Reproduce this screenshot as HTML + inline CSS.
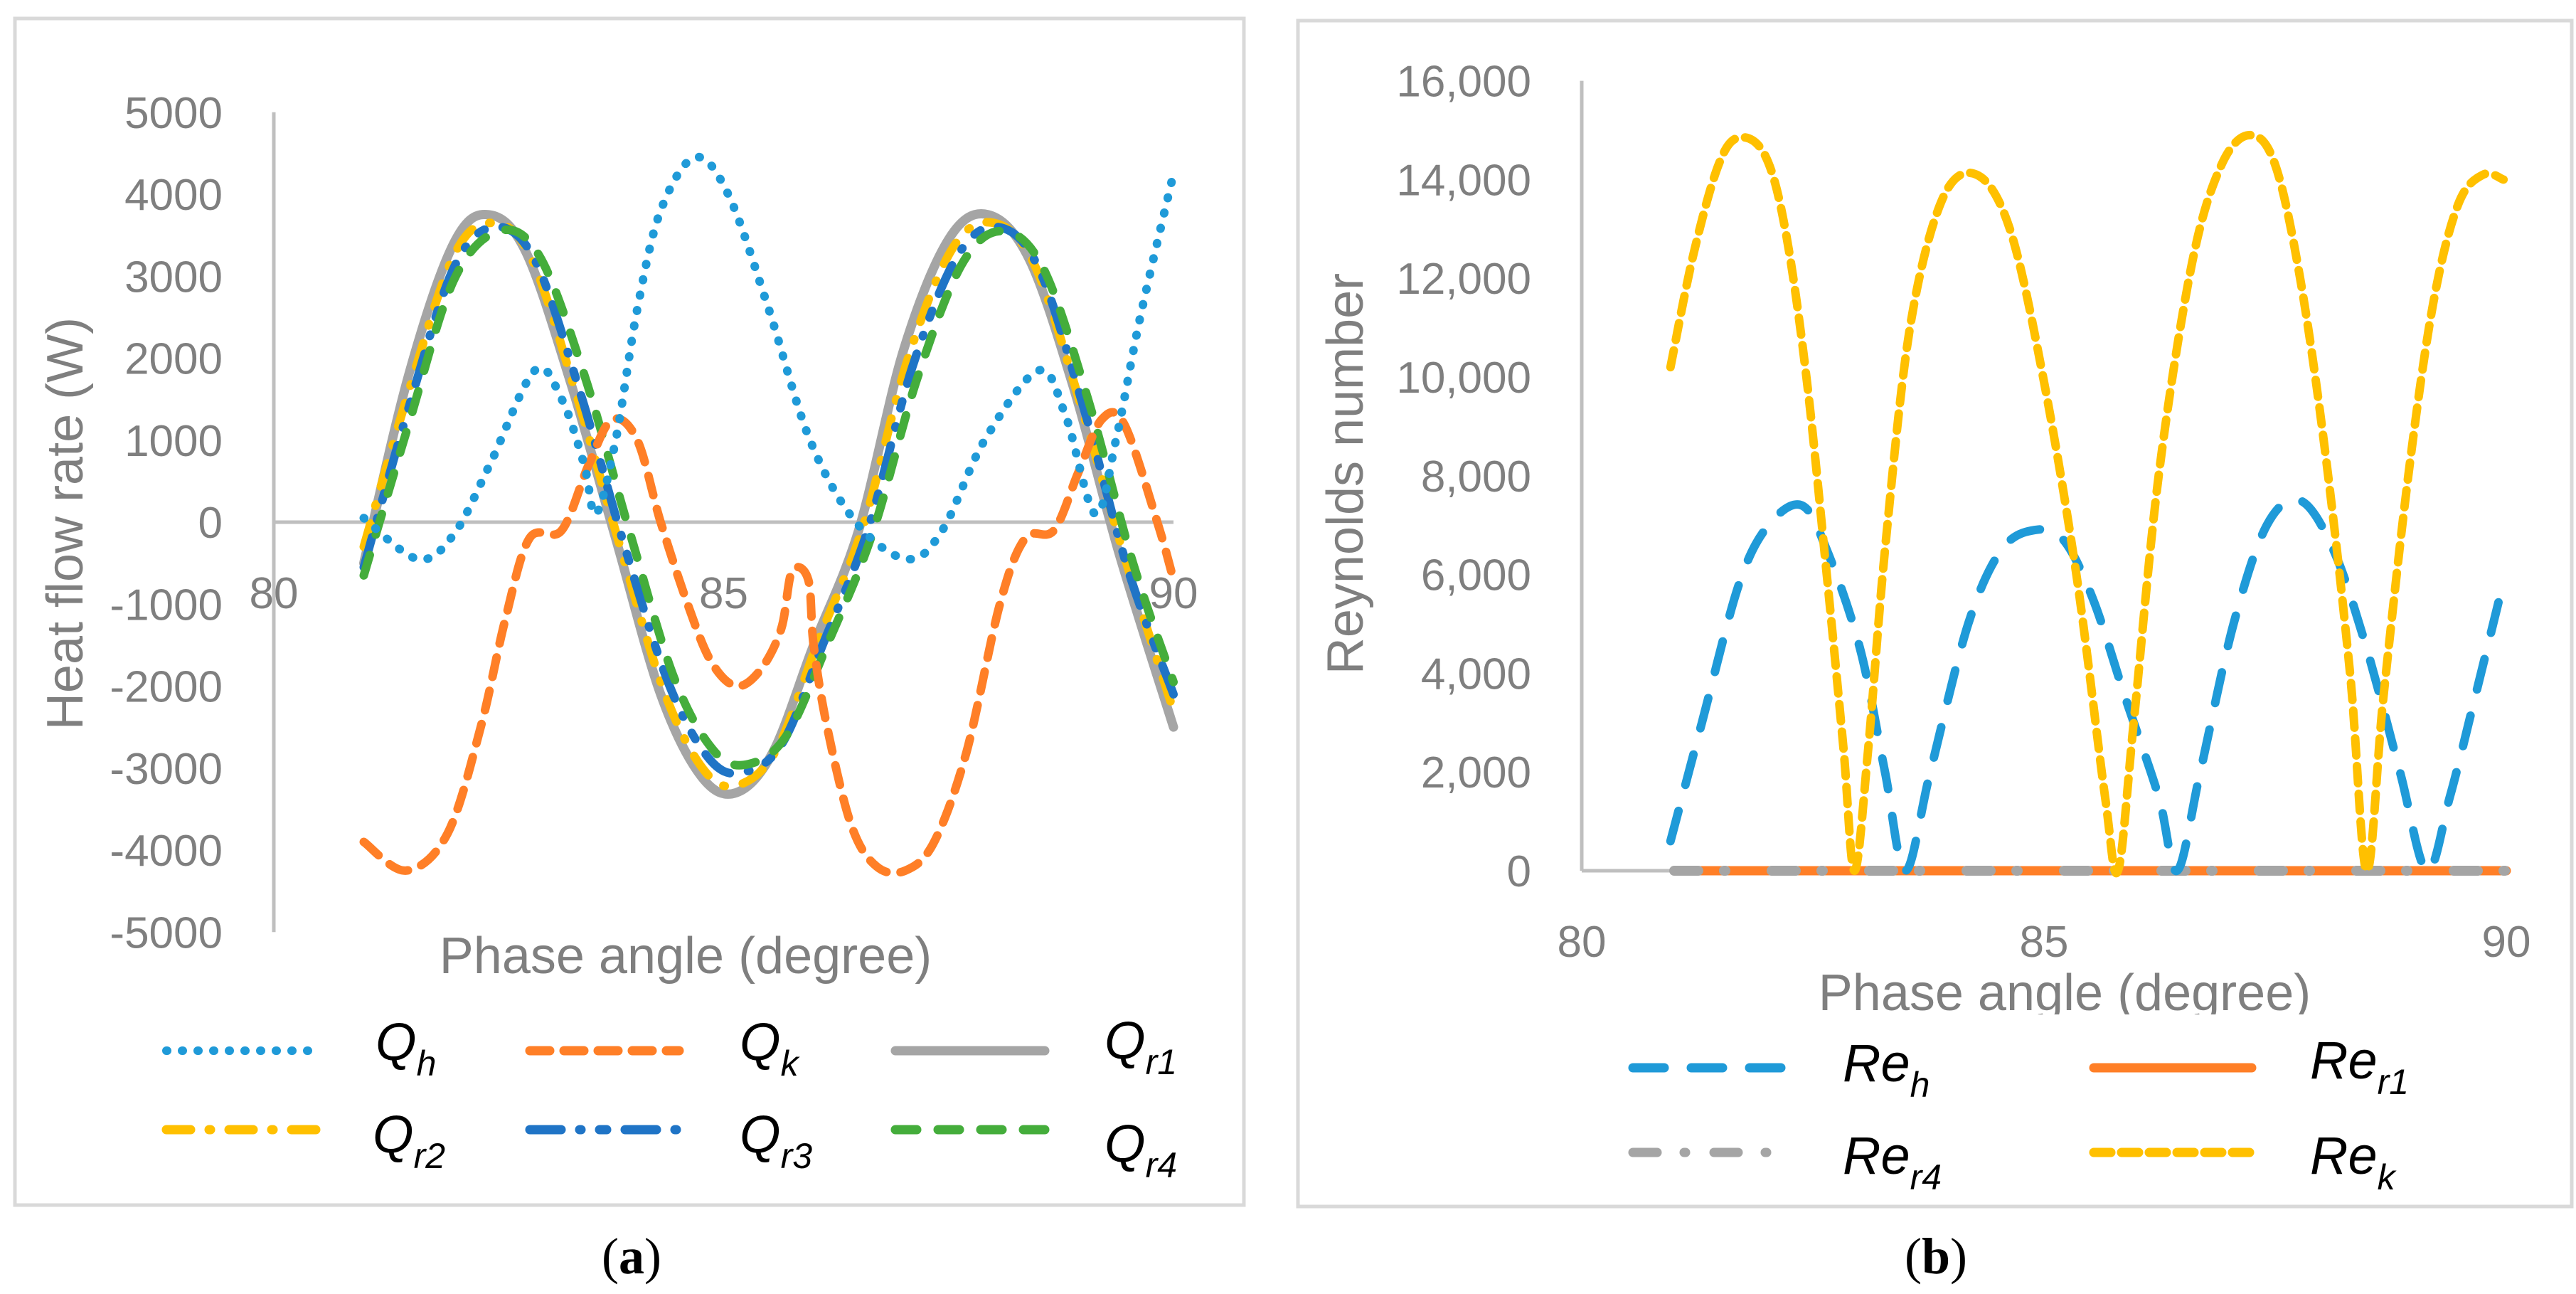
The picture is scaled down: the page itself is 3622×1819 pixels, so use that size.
<!DOCTYPE html>
<html><head><meta charset="utf-8"><style>
html,body{margin:0;padding:0;background:#fff;}
svg{display:block;}
text{font-family:"Liberation Sans",sans-serif;}
</style></head><body>
<svg id="fig" width="3622" height="1819" viewBox="0 0 3622 1819" xmlns="http://www.w3.org/2000/svg">
<rect x="0" y="0" width="3622" height="1819" fill="#fff"/>
<g id="panelA"></g>
<g id="panelB"></g>
</svg>
<script>
// ---------- Panel (a) data ----------
const aYTicks = [5000,4000,3000,2000,1000,0,-1000,-2000,-3000,-4000,-5000];
const aXTicks = [80,85,90];
const qr1X = [81,81.5,82,82.39,82.8,83.3,83.8,84.3,84.75,85.14,85.55,86,86.5,87,87.5,87.94,88.4,88.9,89.4,90];
const qr1Y = [-500,1800,3400,3750,3300,1700,-200,-2100,-3100,-3300,-2800,-1500,-100,2100,3450,3750,3200,1600,-400,-2500];
const qr2X = [81,81.5,82,82.42,82.85,83.35,83.85,84.35,84.8,85.18,85.6,86.05,86.55,87.05,87.55,88,88.45,88.95,89.45,90];
const qr2Y = [-300,1600,3250,3650,3250,1600,-300,-2100,-3050,-3200,-2750,-1450,-50,2000,3350,3650,3150,1500,-400,-2300];
const qr3X = [81,81.5,82,82.45,82.9,83.4,83.9,84.4,84.85,85.22,85.65,86.1,86.6,87.1,87.6,88.05,88.5,89,89.5,90];
const qr3Y = [-550,1400,3100,3600,3200,1600,-300,-2000,-2900,-3050,-2700,-1500,-100,1900,3250,3600,3100,1400,-600,-2100];
const qr4X = [81,81.5,82,82.5,82.95,83.45,83.95,84.45,84.9,85.28,85.7,86.15,86.65,87.15,87.65,88.1,88.55,89.05,89.55,90];
const qr4Y = [-650,1200,2950,3550,3250,1800,-100,-1900,-2800,-2950,-2600,-1500,-150,1750,3150,3550,3100,1500,-500,-1950];
const qhX = [81,81.6,82,82.4,82.9,83.2,83.45,83.58,83.8,84.04,84.3,84.68,85.05,85.5,85.96,86.47,87.04,87.43,87.9,88.5,88.8,89.13,89.36,89.63,90];
const qhY = [50,-450,-150,700,1850,1500,700,100,1000,2600,3800,4450,4000,2600,1000,0,-450,-100,1000,1850,1300,100,1000,2500,4250];
const qkX = [81,81.47,81.93,82.3,82.57,82.84,83.2,83.5,83.76,84.04,84.3,84.6,84.86,85.14,85.41,85.64,85.76,85.94,86.0,86.15,86.42,86.7,87.02,87.34,87.7,88.07,88.35,88.67,88.94,89.2,89.45,89.82,90];
const qkY = [-3900,-4250,-3800,-2500,-1200,-200,-100,700,1250,1000,0,-1000,-1700,-2000,-1800,-1300,-600,-700,-1500,-2500,-3700,-4200,-4250,-3900,-2800,-1000,-200,-100,600,1250,1200,0,-700];

// ---------- Panel (b) data ----------
const bYTicks = [0,2000,4000,6000,8000,10000,12000,14000,16000];
const bYTickLabels = ["0","2,000","4,000","6,000","8,000","10,000","12,000","14,000","16,000"];
const bXTicks = [80,85,90];
const rekX = [80.96,81.21,81.48,81.7,81.98,82.2,82.43,82.65,82.83,82.95,83.1,83.28,83.55,83.9,84.27,84.63,84.99,85.35,85.66,85.8,85.97,86.24,86.6,86.92,87.23,87.5,87.77,88.04,88.31,88.49,88.67,88.94,89.21,89.48,89.75,89.97];
const rekY = [10200,12500,14300,14850,14500,13000,10000,6000,2500,0,2500,6500,11000,13600,14100,13000,10000,6000,1500,0,3000,8000,12300,14300,14900,14300,12000,8500,4000,0,3500,8000,11500,13500,14100,14000];
const rehX = [80.96,81.3,81.7,82.02,82.38,82.65,83.01,83.28,83.5,83.77,84.18,84.54,84.9,85.21,85.53,85.88,86.24,86.44,86.69,87.05,87.41,87.77,88.13,88.49,88.85,89.14,89.39,89.66,89.95];
const rehY = [600,3000,5800,7000,7400,6500,4500,2000,0,2000,5000,6500,6900,6700,5500,3500,1500,0,2000,5000,7000,7500,6500,4500,2000,0,1500,3500,5700];
const rer1X = [81,82,83,84,85,86,87,88,89,90];
const rer1Y = [0,0,0,0,0,0,0,0,0,0];
const rer4X = [81,82,83,84,85,86,87,88,89,90];
const rer4Y = [0,0,0,0,0,0,0,0,0,0];

const NS = "http://www.w3.org/2000/svg";
function mk(parent, tag, attrs, txt){
  const e = document.createElementNS(NS, tag);
  for (const k in attrs) e.setAttribute(k, attrs[k]);
  if (txt !== undefined) e.textContent = txt;
  parent.appendChild(e);
  return e;
}
function smoothPath(pts){
  let d = "M" + pts[0][0].toFixed(1) + "," + pts[0][1].toFixed(1);
  for (let i = 0; i < pts.length - 1; i++){
    const p0 = pts[i-1] || pts[i], p1 = pts[i], p2 = pts[i+1], p3 = pts[i+2] || p2;
    const c1x = p1[0] + (p2[0]-p0[0])/6, c1y = p1[1] + (p2[1]-p0[1])/6;
    const c2x = p2[0] - (p3[0]-p1[0])/6, c2y = p2[1] - (p3[1]-p1[1])/6;
    d += " C" + c1x.toFixed(1)+","+c1y.toFixed(1)+" "+c2x.toFixed(1)+","+c2y.toFixed(1)+" "+p2[0].toFixed(1)+","+p2[1].toFixed(1);
  }
  return d;
}

// ===== Panel A =====
const A = document.getElementById("panelA");
const ax = v => 385 + (v - 80) * 126.5;
const ay = v => 734 - v * 0.11525;
const frameA = mk(A, "rect", {x:21, y:26, width:1728, height:1668, fill:"none", stroke:"#d9d9d9", "stroke-width":5});


const yAxA = mk(A, "line", {x1:ax(80), y1:ay(5000), x2:ax(80), y2:ay(-5000), stroke:"#bfbfbf", "stroke-width":5});


const xAxA = mk(A, "line", {x1:ax(80), y1:ay(0), x2:ax(90), y2:ay(0), stroke:"#bfbfbf", "stroke-width":5});


for (const t of aYTicks){
  const e = mk(A, "text", {x:313, y:ay(t)+22, "text-anchor":"end", "font-size":62, fill:"#7f7f7f"}, String(t));
  
  
}
for (const t of aXTicks){
  const e = mk(A, "text", {x:ax(t), y:855, "text-anchor":"middle", "font-size":62, fill:"#7f7f7f"}, String(t));
  
  
}
const yTitA = mk(A, "text", {x:0, y:0, transform:"translate(116,736) rotate(-90)", "text-anchor":"middle", "font-size":72, fill:"#7f7f7f"}, "Heat flow  rate (W)");


const xTitA = mk(A, "text", {x:964, y:1368, "text-anchor":"middle", "font-size":72, fill:"#7f7f7f"}, "Phase angle (degree)");



const aSeries = [
  {name:"series-qr1", xs:qr1X, ys:qr1Y, color:"#a5a5a5", dash:"none", w:13},
  {name:"series-qr2", xs:qr2X, ys:qr2Y, color:"#ffc000", dash:"34 26 2 26", w:12},
  {name:"series-qr3", xs:qr3X, ys:qr3Y, color:"#1f74c6", dash:"44 26 2 26 10 26", w:12},
  {name:"series-qr4", xs:qr4X, ys:qr4Y, color:"#44ad3b", dash:"30 30", w:12},
  {name:"series-qk", xs:qkX, ys:qkY, color:"#ff7f27", dash:"28 20", w:12},
  {name:"series-qh", xs:qhX, ys:qhY, color:"#1f9ad8", dash:"1 21", w:12}
];
for (const s of aSeries){
  const pts = s.xs.map((x,i)=>[ax(x), ay(s.ys[i])]);
  const p = mk(A, "path", {d:smoothPath(pts), fill:"none", stroke:s.color, "stroke-width":s.w, "stroke-dasharray":s.dash, "stroke-linecap":"round", "stroke-linejoin":"round"});
  
  
}
// legend A
const legA = [
  {x:234, y:1477, color:"#1f9ad8", dash:"1 21", w:12, lab:"Q", sub:"h", lx:528, ly:1490},
  {x:745, y:1477, color:"#ff7f27", dash:"28 20", w:13, lab:"Q", sub:"k", lx:1040, ly:1490},
  {x:1259, y:1477, color:"#a5a5a5", dash:"none", w:13, lab:"Q", sub:"r1", lx:1553, ly:1488},
  {x:234, y:1588, color:"#ffc000", dash:"34 26 2 26", w:13, lab:"Q", sub:"r2", lx:524, ly:1620},
  {x:745, y:1588, color:"#1f74c6", dash:"44 26 2 26 10 26", w:13, lab:"Q", sub:"r3", lx:1040, ly:1620},
  {x:1259, y:1588, color:"#44ad3b", dash:"30 30", w:13, lab:"Q", sub:"r4", lx:1553, ly:1633}
];
for (const l of legA){
  const g = mk(A, "g", {});
  
  
  mk(g, "line", {x1:l.x, y1:l.y, x2:l.x+210, y2:l.y, stroke:l.color, "stroke-width":l.w, "stroke-dasharray":l.dash, "stroke-linecap":"round"});
  const t = mk(g, "text", {x:l.lx, y:l.ly, "font-size":74, "font-style":"italic", fill:"#000"});
  mk(t, "tspan", {}, l.lab);
  mk(t, "tspan", {dy:22, "font-size":50}, l.sub);
}
const capA = mk(A, "text", {x:888, y:1790, "text-anchor":"middle", "font-size":72, fill:"#000", style:"font-family:'Liberation Serif',serif"});


mk(capA, "tspan", {}, "(");
mk(capA, "tspan", {"font-weight":"bold"}, "a");
mk(capA, "tspan", {}, ")");

// ===== Panel B =====
const B = document.getElementById("panelB");
const bx = v => 2224 + (v - 80) * 130;
const by = v => 1224 - v * 0.0694;
const frameB = mk(B, "rect", {x:1825, y:29, width:1791, height:1667, fill:"none", stroke:"#d9d9d9", "stroke-width":5});


const yAxB = mk(B, "line", {x1:bx(80), y1:by(16000), x2:bx(80), y2:by(0), stroke:"#bfbfbf", "stroke-width":5});


const xAxB = mk(B, "line", {x1:bx(80), y1:by(0), x2:bx(90), y2:by(0), stroke:"#bfbfbf", "stroke-width":5});


bYTicks.forEach((t,i)=>{
  const e = mk(B, "text", {x:2153, y:by(t)+22, "text-anchor":"end", "font-size":62, fill:"#7f7f7f"}, bYTickLabels[i]);
  
  
});
for (const t of bXTicks){
  const e = mk(B, "text", {x:bx(t), y:1345, "text-anchor":"middle", "font-size":62, fill:"#7f7f7f"}, String(t));
  
  
}
const yTitB = mk(B, "text", {x:0, y:0, transform:"translate(1916,666) rotate(-90)", "text-anchor":"middle", "font-size":72, fill:"#7f7f7f"}, "Reynolds number");


mk(B, "clipPath", {id:"clipT"});
mk(document.getElementById("clipT"), "rect", {x:2300, y:1340, width:1300, height:86});
const xTitB = mk(B, "text", {x:2903, y:1420, "text-anchor":"middle", "font-size":72, fill:"#7f7f7f", "clip-path":"url(#clipT)"}, "Phase angle (degree)");



const bSeries = [
  {name:"series-rer1", xs:rer1X, ys:rer1Y, color:"#ff7f27", dash:"none", w:13},
  {name:"series-rer4", xs:rer4X, ys:rer4Y, color:"#a5a5a5", dash:"34 36 2 65", w:14},
  {name:"series-reh", xs:rehX, ys:rehY, color:"#1f9ad8", dash:"44 38", w:12},
  {name:"series-rek", xs:rekX, ys:rekY, color:"#ffc000", dash:"24 15", w:12}
];
for (const s of bSeries){
  const pts = s.xs.map((x,i)=>[bx(x), by(s.ys[i])]);
  const p = mk(B, "path", {d:smoothPath(pts), fill:"none", stroke:s.color, "stroke-width":s.w, "stroke-dasharray":s.dash, "stroke-linecap":"round", "stroke-linejoin":"round"});
  
  
}
const legB = [
  {x:2296, y:1501, color:"#1f9ad8", dash:"44 38", lab:"Re", sub:"h", lx:2591, ly:1520},
  {x:2944, y:1501, color:"#ff7f27", dash:"none", lab:"Re", sub:"r1", lx:3248, ly:1516},
  {x:2296, y:1620, color:"#a5a5a5", dash:"34 38 2 40", lab:"Re", sub:"r4", lx:2591, ly:1650},
  {x:2944, y:1620, color:"#ffc000", dash:"24 15", lab:"Re", sub:"k", lx:3248, ly:1650}
];
for (const l of legB){
  const g = mk(B, "g", {});
  
  
  mk(g, "line", {x1:l.x, y1:l.y, x2:l.x+222, y2:l.y, stroke:l.color, "stroke-width":13, "stroke-dasharray":l.dash, "stroke-linecap":"round"});
  const t = mk(g, "text", {x:l.lx, y:l.ly, "font-size":74, "font-style":"italic", fill:"#000"});
  mk(t, "tspan", {}, l.lab);
  mk(t, "tspan", {dy:22, "font-size":50}, l.sub);
}
const capB = mk(B, "text", {x:2722, y:1790, "text-anchor":"middle", "font-size":72, fill:"#000", style:"font-family:'Liberation Serif',serif"});


mk(capB, "tspan", {}, "(");
mk(capB, "tspan", {"font-weight":"bold"}, "b");
mk(capB, "tspan", {}, ")");
</script>
</body></html>
